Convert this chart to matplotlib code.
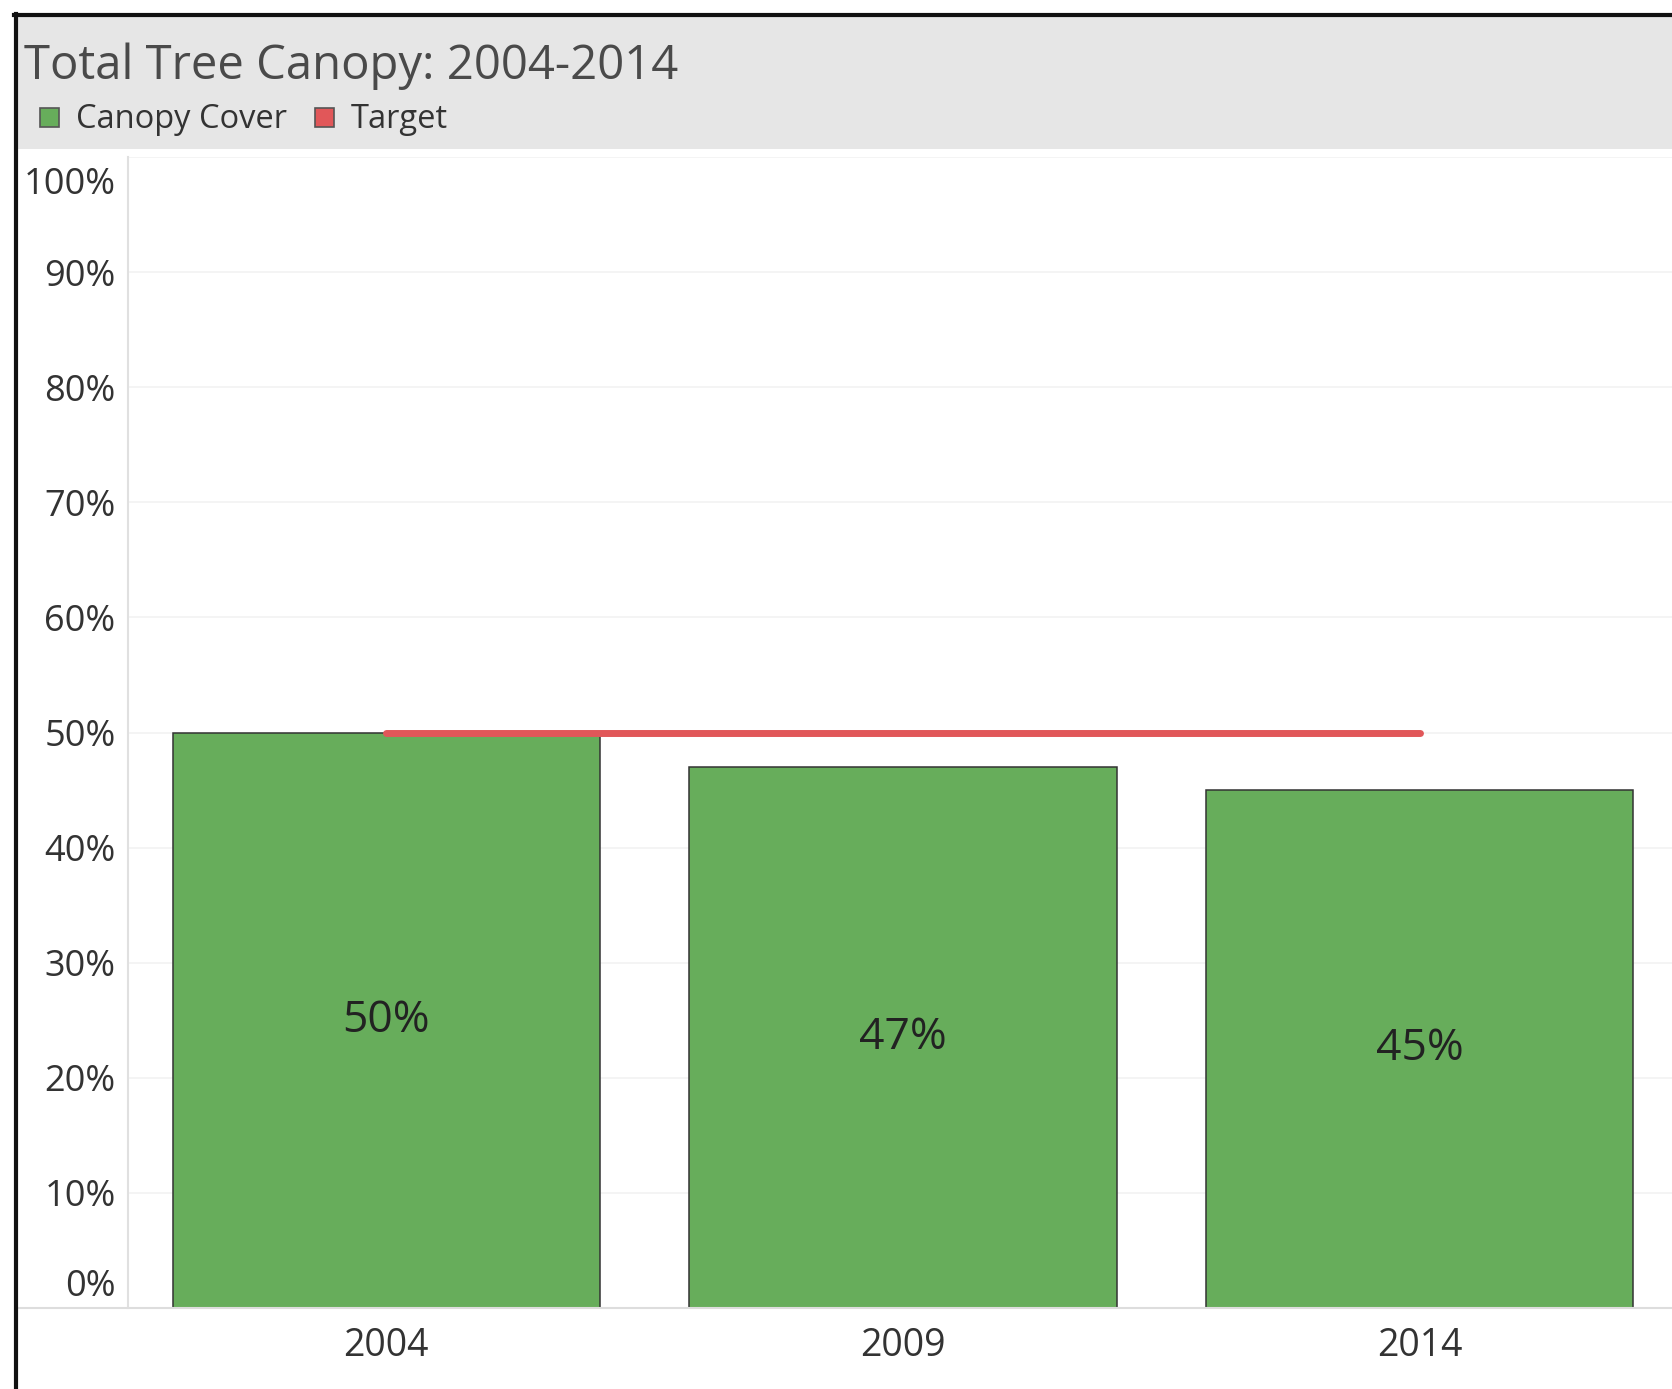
import matplotlib
matplotlib.use("Agg")
import matplotlib.pyplot as plt
import matplotlib.transforms as mtransforms
from matplotlib.patches import Rectangle
from matplotlib.lines import Line2D

plt.rcParams["font.family"] = ["Open Sans", "DejaVu Sans"]

years = ["2004", "2009", "2014"]
canopy_cover = [50, 47, 45]
target = [50, 50, 50]
y_ticks = [0, 10, 20, 30, 40, 50, 60, 70, 80, 90, 100]

GREEN = "#67AD5B"
RED = "#E15759"

W, H = 1672, 1389
fig = plt.figure(figsize=(W / 100, H / 100), dpi=100)
fig.patch.set_facecolor("white")


def fx(px):
    return px / W


def fy(px):
    return 1 - px / H


# header band
fig.patches.append(Rectangle((fx(16), fy(149)), 1 - fx(16), fy(15) - fy(149),
                             transform=fig.transFigure, facecolor="#E6E6E6",
                             edgecolor="none", zorder=0))
# outer border (left and top)
fig.lines.append(Line2D([fx(16), fx(16)], [0, fy(14)], transform=fig.transFigure,
                        color="#111111", linewidth=3, zorder=5))
fig.lines.append(Line2D([fx(14), 1], [fy(15), fy(15)], transform=fig.transFigure,
                        color="#111111", linewidth=3, zorder=5))

fig.text(fx(24), fy(66), "Total Tree Canopy: 2004-2014", fontsize=34, color="#4A4A4A",
         ha="left", va="center")

# legend
legend_items = [("Canopy Cover", GREEN, 40), ("Target", RED, 315)]
for label, color, x0 in legend_items:
    fig.patches.append(Rectangle((fx(x0), fy(127)), fx(19), fy(108) - fy(127),
                                 transform=fig.transFigure, facecolor=color,
                                 edgecolor="#555555", linewidth=1.2, zorder=2))
    fig.text(fx(x0 + 36), fy(119), label, fontsize=23.5, color="#333333",
             ha="left", va="center")

ax = fig.add_axes([fx(128), fy(1308), 1.0036 - fx(128), fy(157) - fy(1308)])
x = list(range(len(years)))
ax.bar(x, canopy_cover, width=0.827, color=GREEN, edgecolor="#333333", linewidth=1.1, zorder=2)
ax.plot(x, target, color=RED, linewidth=5, solid_capstyle="round", zorder=3)

for xi, v in zip(x, canopy_cover):
    ax.text(xi, v / 2, f"{v}%", ha="center", va="center", fontsize=32, color="#222222", zorder=4)

ax.set_xlim(-0.5, 2.5)
ax.set_ylim(0, 100)
ax.set_xticks(x)
ax.set_xticklabels(years, fontsize=27, color="#333333")
ax.set_yticks(y_ticks)
ax.set_yticklabels([f"{t}%" for t in y_ticks], fontsize=26, color="#333333")
ax.tick_params(axis="both", length=0)
ax.tick_params(axis="y", pad=9)
ax.tick_params(axis="x", pad=14)

# Tableau pulls the end labels inside the axis range
labels = ax.get_yticklabels()
labels[0].set_verticalalignment("bottom")
labels[0].set_transform(labels[0].get_transform()
                        + mtransforms.ScaledTranslation(0, 2 / 72, fig.dpi_scale_trans))
labels[-1].set_verticalalignment("top")
labels[-1].set_transform(labels[-1].get_transform()
                         + mtransforms.ScaledTranslation(0, -7 / 72, fig.dpi_scale_trans))

ax.grid(axis="y", color="#F2F2F2", linewidth=1.2, zorder=0)
ax.set_axisbelow(True)
for side in ["top", "right", "bottom"]:
    ax.spines[side].set_visible(False)
ax.spines["left"].set_color("#E0E0E0")
ax.spines["left"].set_linewidth(1.5)

# baseline spanning from the border to the right edge
fig.lines.append(Line2D([fx(16), 1], [fy(1308), fy(1308)], transform=fig.transFigure,
                        color="#DDDDDD", linewidth=1.5, zorder=1))

fig.savefig("out.png", dpi=100)
